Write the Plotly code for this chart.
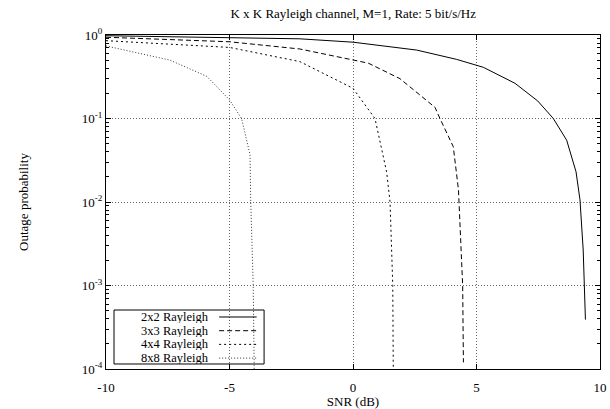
import plotly.graph_objects as go

# ---- data ----
names = ["2x2 Rayleigh", "3x3 Rayleigh", "4x4 Rayleigh", "8x8 Rayleigh"]

snr_2x2 = [-10, -5, -2.15, 0, 2.58, 4.2, 5.28, 6.56, 7.48, 8.11, 8.65, 9.03, 9.19, 9.32, 9.41]
p_2x2 = [0.98, 0.94, 0.90, 0.82, 0.66, 0.51, 0.41, 0.264, 0.162, 0.10, 0.055, 0.023, 0.0106, 0.00266, 0.00039]

snr_3x3 = [-10, -5, -2.15, 0, 0.62, 1.9, 3.32, 3.52, 4.06, 4.27, 4.29, 4.44, 4.47]
p_3x3 = [0.94, 0.83, 0.68, 0.51, 0.46, 0.30, 0.136, 0.1, 0.046, 0.014, 0.01, 0.001, 0.00012]

snr_4x4 = [-10, -5, -2.15, 0, 0.89, 1.36, 1.5, 1.61, 1.63]
p_4x4 = [0.855, 0.71, 0.48, 0.23, 0.1, 0.023, 0.01, 0.001, 0.0001]

snr_8x8 = [-10, -7.41, -5.92, -5, -4.51, -4.17, -4.14, -4.04, -4.0]
p_8x8 = [0.74, 0.5, 0.32, 0.167, 0.1, 0.037, 0.01, 0.001, 0.0001]

x_ticks = [-10, -5, 0, 5, 10]
y_tick_exp = [0, -1, -2, -3, -4]
minor_mult = [2, 3, 4, 5, 6, 7, 8, 9]

series_x = [snr_2x2, snr_3x3, snr_4x4, snr_8x8]
series_y = [p_2x2, p_3x3, p_4x4, p_8x8]

# ---- styles ----
FONT = "Liberation Serif"
FS = 13
dashes = ["solid", "5px,3px", "2px,3px", "1px,2px"]
colors = ["#000000", "#000000", "#000000", "#333333"]

fig = go.Figure()
for xs, ys, nm, d, c in zip(series_x, series_y, names, dashes, colors):
    fig.add_trace(go.Scatter(x=xs, y=ys, mode="lines", name=nm,
                             line=dict(color=c, width=1, dash=d),
                             showlegend=False))

# manual gnuplot-style legend (text, then sample)
lg_x0, lg_x1 = 0.0162, 0.32
lg_y0, lg_y1 = 0.015, 0.1766
fig.add_shape(type="rect", xref="paper", yref="paper",
              x0=lg_x0, x1=lg_x1, y0=lg_y0, y1=lg_y1,
              line=dict(color="black", width=1), fillcolor="white", layer="between")
row_y = [0.1557, 0.1147, 0.0737, 0.0327]
for nm, d, c, ry in zip(names, dashes, colors, row_y):
    fig.add_annotation(x=0.211, y=ry, xref="paper", yref="paper", text=nm,
                       showarrow=False, xanchor="right", yanchor="middle",
                       height=12, borderpad=0,
                       font=dict(family=FONT, size=12.5, color="black"))
    fig.add_shape(type="line", xref="paper", yref="paper",
                  x0=0.229, x1=0.305, y0=ry, y1=ry,
                  line=dict(color=c, width=1, dash=d))

minor_vals = [m * 10 ** e for e in range(-4, 0) for m in minor_mult]
major_vals = [10 ** e for e in y_tick_exp]

fig.update_layout(
    width=610, height=409,
    margin=dict(l=106, r=10, t=35, b=40, autoexpand=False),
    paper_bgcolor="white", plot_bgcolor="white",
    font=dict(family=FONT, size=FS, color="black"),
    title=dict(text="K x K Rayleigh channel, M=1, Rate: 5 bit/s/Hz",
               x=0.579, xanchor="center", y=0.968, yanchor="middle",
               font=dict(family=FONT, size=FS)),
    xaxis=dict(
        range=[-10, 10], tickmode="array", tickvals=x_ticks,
        ticktext=[str(v) for v in x_ticks],
        ticks="inside", ticklen=5, tickwidth=1, tickcolor="#000000",
        mirror="allticks",
        showline=True, linecolor="black", linewidth=1,
        showgrid=True, gridcolor="#666666", griddash="1px,2px", gridwidth=1,
        zeroline=False, automargin=False, ticklabelstandoff=6,
        title=dict(text="SNR (dB)", font=dict(family=FONT, size=FS), standoff=6),
        tickfont=dict(family=FONT, size=FS),
    ),
    yaxis=dict(
        type="log", range=[-4, 0], tickmode="array",
        tickvals=major_vals,
        ticktext=["10<sup>%d</sup>" % e for e in y_tick_exp],
        ticks="inside", ticklen=5, tickwidth=1, tickcolor="#000000",
        mirror="allticks",
        showline=True, linecolor="black", linewidth=1,
        showgrid=True, gridcolor="#666666", griddash="1px,2px", gridwidth=1,
        zeroline=False, automargin=False,
        minor=dict(ticks="inside", ticklen=3, tickwidth=1, tickcolor="#000000",
                   tickmode="array", tickvals=minor_vals, showgrid=False),
        title=dict(text="Outage probability", font=dict(family=FONT, size=FS), standoff=50),
        tickfont=dict(family=FONT, size=FS),
    ),
)

fig.write_html("out.html")
